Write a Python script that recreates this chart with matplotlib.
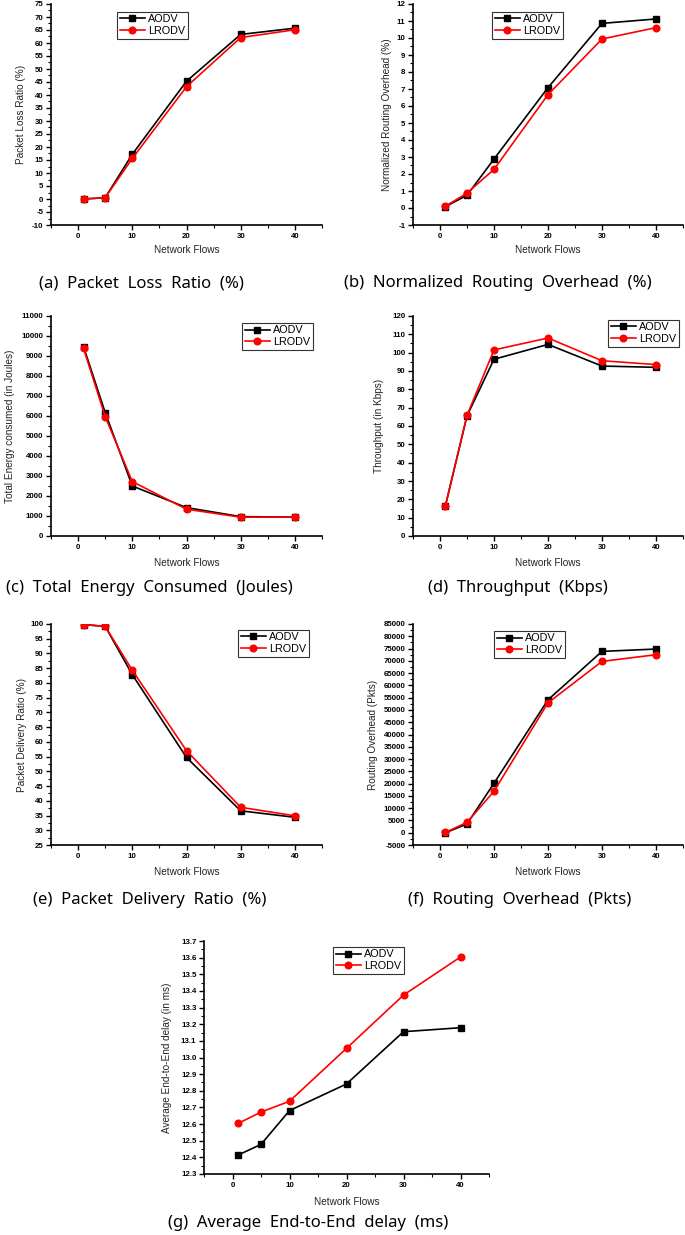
import matplotlib
matplotlib.use("Agg")
import matplotlib.pyplot as plt
from matplotlib.ticker import MultipleLocator

# ---------------- data ----------------
flows = [1, 5, 10, 20, 30, 40]
series_names = ["AODV", "LRODV"]

plr_aodv = [0.0, 0.5, 17.2, 45.3, 63.3, 65.7]
plr_lrodv = [0.0, 0.5, 15.6, 43.2, 62.1, 65.1]

nro_aodv = [0.08, 0.75, 2.88, 7.08, 10.86, 11.12]
nro_lrodv = [0.10, 0.88, 2.27, 6.67, 9.94, 10.61]

energy_aodv = [9470, 6170, 2500, 1420, 970, 940]
energy_lrodv = [9380, 5970, 2720, 1340, 940, 950]

thr_aodv = [16.4, 65.5, 96.4, 104.5, 92.7, 92.0]
thr_lrodv = [16.4, 65.8, 101.5, 108.0, 95.6, 93.5]

pdr_aodv = [99.8, 99.2, 82.8, 54.7, 36.6, 34.4]
pdr_lrodv = [99.8, 99.2, 84.3, 57.0, 37.8, 34.9]

ro_aodv = [0, 3560, 20150, 54130, 73850, 74800]
ro_lrodv = [100, 4240, 16880, 52900, 69770, 72490]

delay_aodv = [12.414, 12.478, 12.681, 12.841, 13.155, 13.179]
delay_lrodv = [12.604, 12.672, 12.737, 13.055, 13.375, 13.604]

ylabels = ["Packet Loss Ratio (%)", "Normalized Routing Overhead (%)",
           "Total Energy consumed (in Joules)", "Throughput (in Kbps)",
           "Packet Delivery Ratio (%)", "Routing Overhead (Pkts)",
           "Average End-to-End delay (in ms)"]
captions = ["(a)  Packet  Loss  Ratio  (%)", "(b)  Normalized  Routing  Overhead  (%)",
            "(c)  Total  Energy  Consumed  (Joules)", "(d)  Throughput  (Kbps)",
            "(e)  Packet  Delivery  Ratio  (%)", "(f)  Routing  Overhead  (Pkts)",
            "(g)  Average  End-to-End  delay  (ms)"]
xlabel = "Network Flows"

# ---------------- layout ----------------
W, H = 685, 1235
fig = plt.figure(figsize=(W / 100, H / 100), dpi=100)
plt.rcParams['font.family'] = ['Liberation Sans', 'DejaVu Sans']


def px_axes(l, t, r, b):
    return fig.add_axes([l / W, 1 - b / H, (r - l) / W, (b - t) / H])


panels = [
    dict(rect=(51, 4, 322, 225), ylim=(-10, 75), maj=5, mn=2.5, a=plr_aodv, l=plr_lrodv,
         ylx=21, xly=250, leg=(0.244, 0.966), cap=(141, 283), fmt="{:.0f}"),
    dict(rect=(413, 4, 683, 225), ylim=(-1, 12), maj=1, mn=0.5, a=nro_aodv, l=nro_lrodv,
         ylx=387, xly=250, leg=(0.293, 0.966), cap=(498, 283), fmt="{:.0f}"),
    dict(rect=(51, 316, 322, 536), ylim=(0, 11000), maj=1000, mn=500, a=energy_aodv, l=energy_lrodv,
         ylx=10, xly=563, leg=(0.705, 0.97), cap=(149, 588), fmt="{:.0f}"),
    dict(rect=(413, 316, 683, 536), ylim=(0, 120), maj=10, mn=5, a=thr_aodv, l=thr_lrodv,
         ylx=379, xly=563, leg=(0.722, 0.984), cap=(518, 588), fmt="{:.0f}"),
    dict(rect=(51, 624, 322, 845), ylim=(25, 100), maj=5, mn=2.5, a=pdr_aodv, l=pdr_lrodv,
         ylx=22, xly=872, leg=(0.69, 0.975), cap=(150, 900), fmt="{:.0f}"),
    dict(rect=(413, 624, 683, 845), ylim=(-5000, 85000), maj=5000, mn=2500, a=ro_aodv, l=ro_lrodv,
         ylx=373, xly=872, leg=(0.30, 0.97), cap=(520, 900), fmt="{:.0f}"),
    dict(rect=(204, 941, 489, 1174), ylim=(12.3, 13.7), maj=0.1, mn=0.05, a=delay_aodv, l=delay_lrodv,
         ylx=167, xly=1202, leg=(0.453, 0.976), cap=(308, 1223), fmt="{:.1f}"),
]

for i, p in enumerate(panels):
    l, t, r, b = p["rect"]
    ax = px_axes(l, t, r, b)
    ax.plot(flows, p["a"], color="black", marker="s", markersize=4.2, linewidth=1.2, label=series_names[0])
    ax.plot(flows, p["l"], color="#ff0000", marker="o", markersize=4.8, linewidth=1.2, label=series_names[1])
    ax.set_xlim(-5, 45)
    ax.set_ylim(*p["ylim"])
    ax.xaxis.set_major_locator(MultipleLocator(10))
    ax.xaxis.set_minor_locator(MultipleLocator(5))
    ax.yaxis.set_major_locator(MultipleLocator(p["maj"]))
    ax.yaxis.set_minor_locator(MultipleLocator(p["mn"]))
    fmt = p["fmt"]
    ax.yaxis.set_major_formatter(plt.FuncFormatter(lambda v, pos, f=fmt: f.format(v)))
    for s in ["top", "right"]:
        ax.spines[s].set_visible(False)
    for s in ["left", "bottom"]:
        ax.spines[s].set_linewidth(1.2)
    ax.tick_params(which="major", direction="out", length=3.5, width=1.0, labelsize=5.7, pad=2)
    ax.tick_params(which="minor", direction="out", length=2, width=0.8)
    for lab in ax.get_xticklabels() + ax.get_yticklabels():
        lab.set_fontweight("bold")
    ax.set_ylabel(ylabels[i], fontsize=7.2, color="#222222", va="center", ha="center")
    ax.yaxis.set_label_coords((p["ylx"] - l) / (r - l), 0.5)
    ax.set_xlabel(xlabel, fontsize=7.2, color="#222222", va="center", ha="center")
    ax.xaxis.set_label_coords(0.5, (b - p["xly"]) / (b - t))
    leg = ax.legend(loc="upper left", bbox_to_anchor=p["leg"], fontsize=7.8, frameon=True,
                    fancybox=False, edgecolor="#333333", framealpha=1, handlelength=2.3,
                    handletextpad=0.3, borderpad=0.25, labelspacing=0.15, borderaxespad=0)
    leg.get_frame().set_linewidth(0.8)
    cx, cy = p["cap"]
    fig.text(cx / W, 1 - cy / H, captions[i], fontsize=12, family=["Noto Sans", "DejaVu Sans"],
             ha="center", va="center", color="black")

fig.savefig("out.png", dpi=100)
